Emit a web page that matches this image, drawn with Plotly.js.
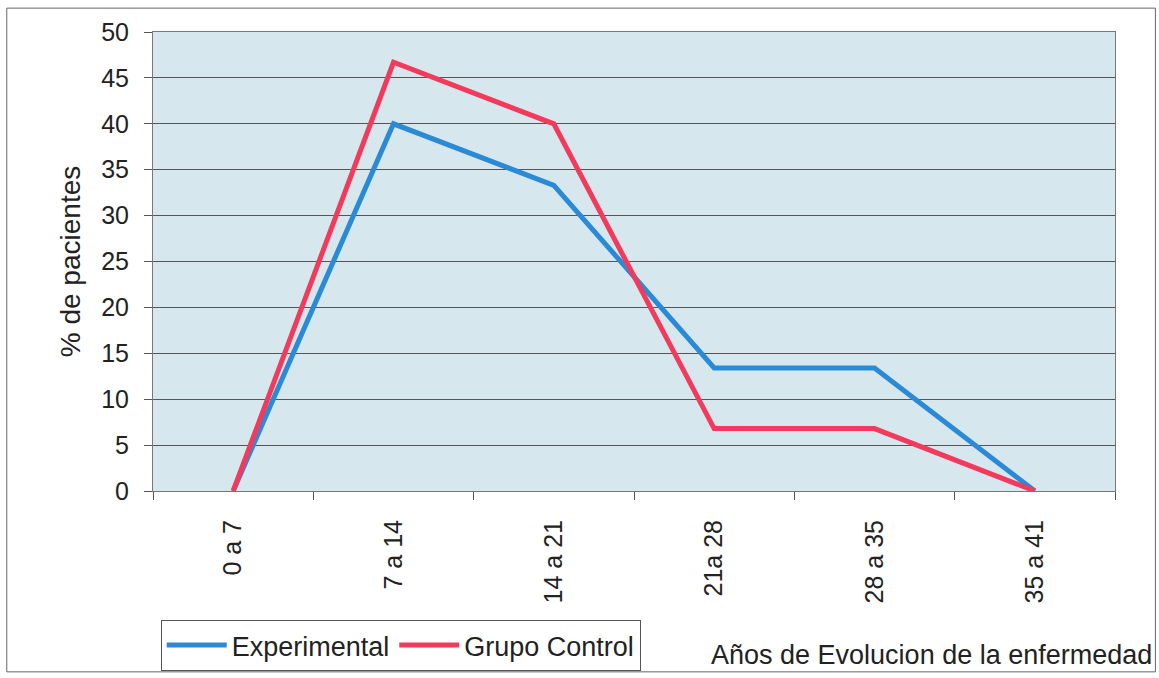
<!DOCTYPE html>
<html><head><meta charset="utf-8">
<script src="https://cdn.plot.ly/plotly-3.0.1.min.js"></script>
<style>body{margin:0;background:#fff}#c{width:1159px;height:678px}</style>
</head><body><div id="c"></div>
<script>
const categories = ["0 a 7","7 a 14","14 a 21","21a 28","28 a 35","35 a 41"];
const experimental = [0, 40, 33.3, 13.4, 13.4, 0];
const grupoControl = [0, 46.7, 40, 6.8, 6.8, 0];
const seriesNames = ["Experimental","Grupo Control"];
const yTicks = [0,5,10,15,20,25,30,35,40,45,50];

const font = "Liberation Sans, Arial, sans-serif";
const traces = [
  {x: categories, y: experimental, name: seriesNames[0], type: "scatter", mode: "lines",
   line: {color: "#2b8ad6", width: 5}},
  {x: categories, y: grupoControl, name: seriesNames[1], type: "scatter", mode: "lines",
   line: {color: "#f23a5c", width: 5}}
];
const layout = {
  width: 1159, height: 678,
  margin: {l: 153, r: 44, t: 32, b: 187, autoexpand: false},
  paper_bgcolor: "#ffffff",
  plot_bgcolor: "#d6e8ee",
  font: {family: font, size: 25, color: "#222"},
  showlegend: true,
  legend: {orientation: "h", x: 0.008, y: -0.392, xanchor: "left", yanchor: "bottom",
           bordercolor: "#555", borderwidth: 1, bgcolor: "#fff", tracegroupgap: 0,
           font: {family: font, size: 27, color: "#222"}, itemwidth: 60},
  xaxis: {type: "category", tickson: "boundaries", ticks: "outside", ticklen: 8,
          tickcolor: "#555", tickangle: -90, showgrid: false, zeroline: false,
          showline: true, linecolor: "#777", linewidth: 1, mirror: true,
          ticklabelstandoff: 18, automargin: false,
          tickfont: {family: font, size: 25, color: "#222"}, range: [-0.5, 5.5]},
  yaxis: {range: [0, 50], tickvals: yTicks, ticks: "outside", ticklen: 8, tickcolor: "#555",
          showgrid: true, gridcolor: "#555", gridwidth: 1, zeroline: false,
          showline: true, linecolor: "#777", linewidth: 1, mirror: true,
          ticklabelstandoff: 10, automargin: false,
          tickfont: {family: font, size: 25, color: "#222"},
          title: {text: "% de pacientes", font: {family: font, size: 28, color: "#222"}, standoff: 12}},
  annotations: [{text: "Años de Evolucion de la enfermedad", xref: "paper", yref: "paper",
                 x: 1.041, y: -0.357, xanchor: "right", yanchor: "middle", showarrow: false,
                 font: {family: font, size: 27, color: "#222"}}],
  shapes: [{type: "rect", xref: "paper", yref: "paper", x0: -0.152, x1: 1.042, y0: -0.394, y1: 1.052,
            line: {color: "#666", width: 1}, layer: "below"}]
};
Plotly.newPlot("c", traces, layout, {displayModeBar: false, staticPlot: true});
</script></body></html>
